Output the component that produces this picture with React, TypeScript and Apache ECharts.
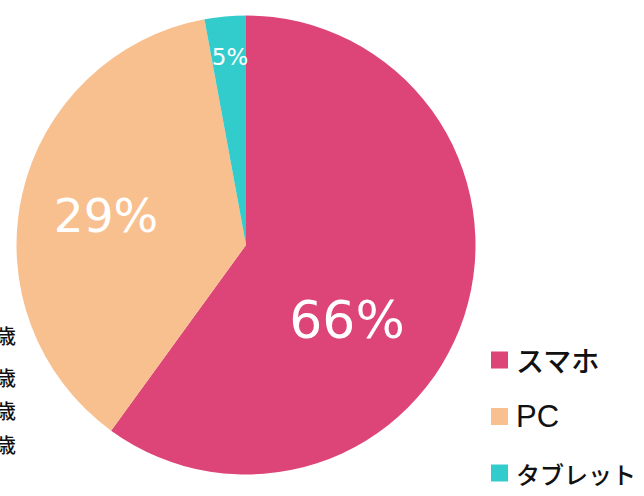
import React, { useEffect, useRef } from "react";
import * as echarts from "echarts";

const categories = ["スマホ", "PC", "タブレット"];
const sliceValues = [60, 37.1, 2.9];
const labelTexts = ["66%", "29%", "5%"];
const colors = ["#DD4477", "#F9C08F", "#33CCCC"];
const ageLabels = ["13〜19歳", "20〜29歳", "30〜39歳", "40〜49歳"];

const labelPos = [
  { x: 347, y: 320, size: 52 },
  { x: 106, y: 215, size: 47 },
  { x: 230, y: 57, size: 23 },
];
const legendFont = [
  { size: 28, family: "Noto Sans CJK JP, sans-serif" },
  { size: 31, family: "Liberation Sans, Arial, sans-serif" },
  { size: 24, family: "Noto Sans CJK JP, sans-serif" },
];
const ageY = [335, 377, 410, 444];

export default function App() {
  const ref = useRef<HTMLDivElement>(null);
  useEffect(() => {
    const chart = echarts.init(ref.current!, null, { renderer: "svg" });
    chart.setOption({
      animation: false,
      legend: {
        orient: "vertical",
        left: 486,
        top: 341,
        itemWidth: 17,
        itemHeight: 17,
        itemGap: 27,
        icon: "rect",
        data: categories.map((c, i) => ({
          name: c,
          textStyle: {
            fontSize: legendFont[i].size,
            fontFamily: legendFont[i].family,
            lineHeight: 28,
            padding: [0, 0, 0, 3],
          },
        })),
        textStyle: {
          fontSize: 24,
          lineHeight: 28,
          color: "#111",
          fontWeight: 500,
          fontFamily: "Noto Sans CJK JP, sans-serif",
        },
      },
      graphic: ageLabels.map((t, i) => ({
        type: "text",
        x: 16,
        y: ageY[i],
        style: {
          text: t,
          fontSize: 20,
          fontWeight: 500,
          fill: "#111",
          align: "right",
          verticalAlign: "middle",
          fontFamily: "Noto Sans CJK JP, sans-serif",
        },
      })),
      series: [
        {
          type: "pie",
          center: [246, 245],
          radius: [0, 229.5],
          startAngle: 90,
          clockwise: true,
          label: {
            show: true,
            position: "inside",
            color: "#fff",
            fontFamily: "DejaVu Sans, sans-serif",
            formatter: (p: any) => labelTexts[p.dataIndex],
          },
          labelLine: { show: false },
          labelLayout: (p: any) => ({
            x: labelPos[p.dataIndex].x,
            y: labelPos[p.dataIndex].y,
            align: "center",
            verticalAlign: "middle",
            fontSize: labelPos[p.dataIndex].size,
          }),
          emphasis: { disabled: true },
          itemStyle: { borderWidth: 0 },
          data: categories.map((c, i) => ({
            name: c,
            value: sliceValues[i],
            itemStyle: { color: colors[i] },
            label: { fontSize: labelPos[i].size },
          })),
        },
      ],
    });
    return () => chart.dispose();
  }, []);
  return (
    <div
      ref={ref}
      style={{ position: "fixed", left: 0, top: 0, width: 644, height: 496, background: "#fff" }}
    />
  );
}
